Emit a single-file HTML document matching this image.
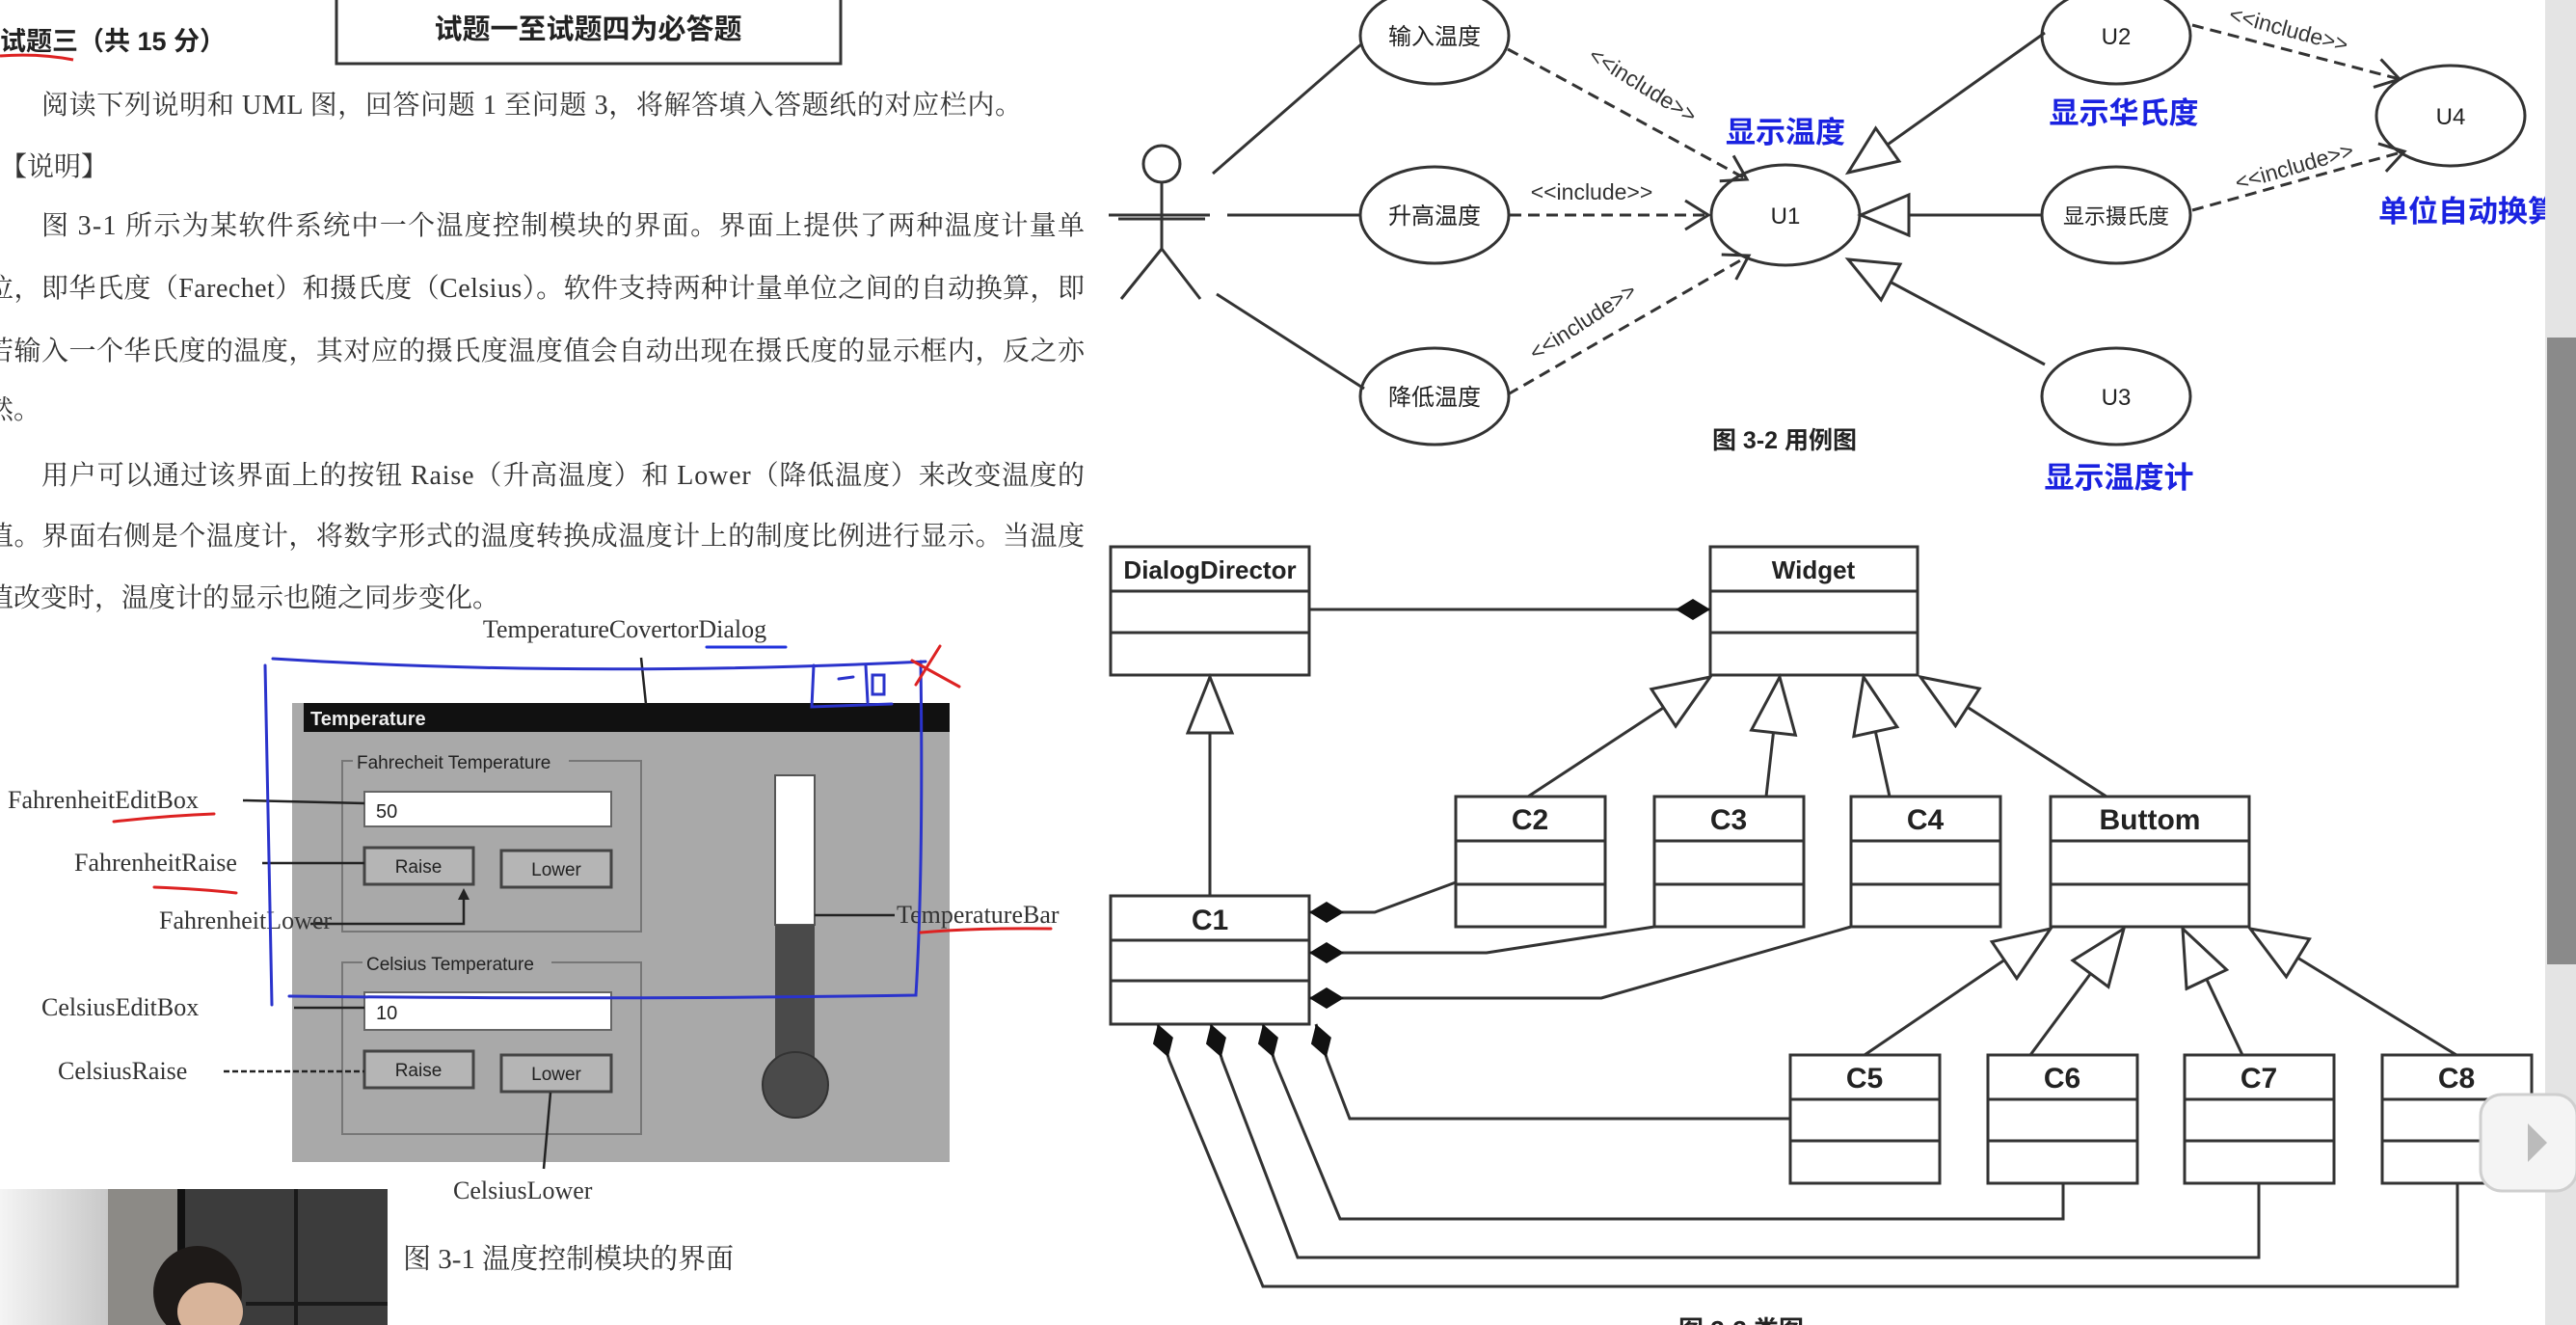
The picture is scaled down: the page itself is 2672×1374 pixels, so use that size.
<!DOCTYPE html>
<html><head><meta charset="utf-8"><style>
html,body{margin:0;padding:0;background:#fff;}
svg{display:block;}
.cn{font-family:"Liberation Serif","Noto Serif CJK SC",serif;fill:#333;}
.ss{font-family:"Liberation Sans","Noto Sans CJK SC",sans-serif;}
</style></head><body>
<svg width="2672" height="1374" viewBox="0 0 2672 1374" xmlns="http://www.w3.org/2000/svg">
<defs>
<marker id="tri" markerUnits="userSpaceOnUse" markerWidth="64" markerHeight="52" refX="60" refY="25" orient="auto"><path d="M2,2 L60,25 L2,48 z" fill="#fff" stroke="#333" stroke-width="3"/></marker>
<marker id="utri" markerUnits="userSpaceOnUse" markerWidth="56" markerHeight="48" refX="52" refY="23" orient="auto"><path d="M2,2 L52,23 L2,44 z" fill="#fff" stroke="#333" stroke-width="3"/></marker>
<marker id="open" markerUnits="userSpaceOnUse" markerWidth="30" markerHeight="34" refX="26" refY="17" orient="auto"><path d="M2,2 L26,17 L2,32" fill="none" stroke="#333" stroke-width="3"/></marker>
<marker id="dE" markerUnits="userSpaceOnUse" markerWidth="40" markerHeight="26" refX="37" refY="13" orient="auto"><path d="M1,13 L19,2 L37,13 L19,24 z" fill="#111"/></marker>
<marker id="dS" markerUnits="userSpaceOnUse" markerWidth="40" markerHeight="26" refX="1" refY="13" orient="auto"><path d="M1,13 L19,2 L37,13 L19,24 z" fill="#111"/></marker>
<linearGradient id="wl" x1="0" x2="1"><stop offset="0" stop-color="#f4f4f4"/><stop offset="1" stop-color="#c8c8c8"/></linearGradient>
</defs>

<!-- LEFT TEXT -->
<rect x="349" y="-4" width="523" height="70" fill="#fff" stroke="#333" stroke-width="3"/>
<text x="610" y="40" text-anchor="middle" class="ss" font-size="29" font-weight="bold" fill="#222">试题一至试题四为必答题</text>
<text x="0" y="52" class="ss" font-size="27" font-weight="bold" fill="#222">试题三（共 15 分）</text>
<path d="M0,58 Q40,55 76,62" stroke="#d22" stroke-width="3" fill="none"/>
<g class="cn" font-size="28">
<text x="43" y="118" textLength="1017" lengthAdjust="spacing">阅读下列说明和 UML 图，回答问题 1 至问题 3，将解答填入答题纸的对应栏内。</text>
<text x="0" y="182">【说明】</text>
<text x="43" y="243" textLength="1082" lengthAdjust="spacing">图 3-1 所示为某软件系统中一个温度控制模块的界面。界面上提供了两种温度计量单</text>
<text x="-14" y="308" textLength="1139" lengthAdjust="spacing">位，即华氏度（Farechet）和摄氏度（Celsius）。软件支持两种计量单位之间的自动换算，即</text>
<text x="-14" y="373" textLength="1139" lengthAdjust="spacing">若输入一个华氏度的温度，其对应的摄氏度温度值会自动出现在摄氏度的显示框内，反之亦</text>
<text x="-14" y="434">然。</text>
<text x="43" y="502" textLength="1082" lengthAdjust="spacing">用户可以通过该界面上的按钮 Raise（升高温度）和 Lower（降低温度）来改变温度的</text>
<text x="-14" y="565" textLength="1139" lengthAdjust="spacing">值。界面右侧是个温度计，将数字形式的温度转换成温度计上的制度比例进行显示。当温度</text>
<text x="-14" y="629">值改变时，温度计的显示也随之同步变化。</text>
</g>

<!-- FIGURE 3-1 -->
<rect x="303" y="729" width="682" height="476" fill="#a9a9a9"/>
<rect x="315" y="729" width="670" height="30" fill="#111"/>
<text x="322" y="752" class="ss" font-size="20" font-weight="bold" fill="#eee">Temperature</text>
<g fill="none" stroke="#777" stroke-width="2">
<rect x="355" y="789" width="310" height="177"/>
<rect x="355" y="998" width="310" height="178"/>
</g>
<rect x="366" y="779" width="224" height="22" fill="#a9a9a9"/>
<text x="370" y="797" class="ss" font-size="19" fill="#222">Fahrecheit Temperature</text>
<rect x="376" y="988" width="196" height="22" fill="#a9a9a9"/>
<text x="380" y="1006" class="ss" font-size="19" fill="#222">Celsius Temperature</text>
<rect x="378" y="821" width="256" height="36" fill="#fff" stroke="#666" stroke-width="2"/>
<text x="390" y="848" class="ss" font-size="20" fill="#222">50</text>
<rect x="378" y="1029" width="256" height="39" fill="#fff" stroke="#666" stroke-width="2"/>
<text x="390" y="1057" class="ss" font-size="20" fill="#222">10</text>
<g fill="#b5b5b5" stroke="#444" stroke-width="3">
<rect x="378" y="879" width="113" height="38"/><rect x="520" y="882" width="114" height="38"/>
<rect x="378" y="1090" width="113" height="38"/><rect x="520" y="1094" width="114" height="38"/>
</g>
<g class="ss" font-size="19" fill="#222" text-anchor="middle">
<text x="434" y="905">Raise</text><text x="577" y="908">Lower</text>
<text x="434" y="1116">Raise</text><text x="577" y="1120">Lower</text>
</g>
<rect x="804" y="804" width="41" height="155" fill="#fff" stroke="#555" stroke-width="2"/>
<rect x="804" y="959" width="41" height="150" fill="#4a4a4a"/>
<circle cx="825" cy="1125" r="34" fill="#4a4a4a" stroke="#333" stroke-width="2"/>
<g stroke="#222" stroke-width="2.5" fill="none">
<line x1="665" y1="682" x2="670" y2="730"/>
<line x1="252" y1="830" x2="378" y2="833"/>
<line x1="272" y1="895" x2="378" y2="895"/>
<polyline points="322,958 481,958 481,929"/>
<line x1="305" y1="1045" x2="378" y2="1045"/>
<line x1="232" y1="1111" x2="378" y2="1111" stroke-dasharray="6,3"/>
<line x1="571" y1="1133" x2="564" y2="1212"/>
<line x1="845" y1="949" x2="928" y2="949"/>
</g>
<path d="M481,921 l-6,12 h12 z" fill="#222"/>
<g class="cn" font-size="26" fill="#222">
<text x="648" y="661" text-anchor="middle">TemperatureCovertorDialog</text>
<text x="8" y="838">FahrenheitEditBox</text>
<text x="77" y="903">FahrenheitRaise</text>
<text x="165" y="963">FahrenheitLower</text>
<text x="43" y="1053">CelsiusEditBox</text>
<text x="60" y="1119">CelsiusRaise</text>
<text x="470" y="1243">CelsiusLower</text>
<text x="930" y="957">TemperatureBar</text>
</g>
<g fill="none" stroke-width="3" stroke-linecap="round">
<path d="M733,671 L815,671" stroke="#2233dd"/>
<path d="M283,683 Q600,703 960,686 M275,690 L282,1042 M300,1033 Q650,1037 950,1032 Q958,900 955,686" stroke="#2a33cc"/>
<path d="M844,690 L842,733 L925,730 M870,704 L885,702 M898,690 L900,728 M905,700 h12 v20 h-12 z" stroke="#2a33cc"/>
<path d="M946,685 L995,712 M975,670 L950,710" stroke="#dd2222"/>
<path d="M118,852 Q170,846 222,844 M160,920 Q210,922 245,926 M955,967 Q1010,962 1090,963" stroke="#dd2222"/>
</g>

<!-- WEBCAM -->
<rect x="0" y="1233" width="402" height="141" fill="#3c3c3c"/>
<rect x="0" y="1233" width="112" height="141" fill="url(#wl)"/>
<rect x="112" y="1233" width="72" height="141" fill="#8c8a86"/>
<rect x="184" y="1233" width="8" height="141" fill="#111"/>
<rect x="305" y="1233" width="4" height="141" fill="#1a1a1a"/>
<rect x="255" y="1350" width="147" height="4" fill="#1a1a1a"/>
<ellipse cx="205" cy="1340" rx="46" ry="48" fill="#1e1a18"/>
<ellipse cx="218" cy="1360" rx="34" ry="30" fill="#d8b49a"/>
<text x="418" y="1315" class="cn" font-size="29" fill="#333">图 3-1  温度控制模块的界面</text>

<!-- USE CASE DIAGRAM -->
<g fill="#fff" stroke="#333" stroke-width="3">
<ellipse cx="1488" cy="37" rx="77" ry="50"/>
<ellipse cx="1488" cy="223" rx="77" ry="50"/>
<ellipse cx="1488" cy="411" rx="77" ry="50"/>
<ellipse cx="1852" cy="223" rx="77" ry="52"/>
<ellipse cx="2195" cy="37" rx="77" ry="50"/>
<ellipse cx="2195" cy="223" rx="77" ry="50"/>
<ellipse cx="2195" cy="411" rx="77" ry="50"/>
<ellipse cx="2542" cy="120" rx="77" ry="52"/>
<circle cx="1205" cy="170" r="19"/>
</g>
<g stroke="#333" stroke-width="3" fill="none">
<line x1="1205" y1="189" x2="1205" y2="258"/>
<line x1="1160" y1="227" x2="1250" y2="227"/>
<line x1="1205" y1="258" x2="1163" y2="310"/>
<line x1="1205" y1="258" x2="1245" y2="310"/>
<line x1="1258" y1="180" x2="1413" y2="45"/>
<line x1="1273" y1="223" x2="1411" y2="223"/>
<line x1="1150" y1="223" x2="1255" y2="223"/>
<line x1="1262" y1="305" x2="1415" y2="403"/>
<g stroke-dasharray="12,7">
<line x1="1564" y1="51" x2="1812" y2="186" marker-end="url(#open)"/>
<line x1="1566" y1="223" x2="1772" y2="223" marker-end="url(#open)"/>
<line x1="1564" y1="409" x2="1814" y2="265" marker-end="url(#open)"/>
<line x1="2274" y1="26" x2="2489" y2="82" marker-end="url(#open)"/>
<line x1="2274" y1="218" x2="2494" y2="157" marker-end="url(#open)"/>
</g>
<line x1="2121" y1="34" x2="1917" y2="179" marker-end="url(#utri)"/>
<line x1="2118" y1="223" x2="1930" y2="223" marker-end="url(#utri)"/>
<line x1="2121" y1="378" x2="1917" y2="269" marker-end="url(#utri)"/>
</g>
<g class="ss" font-size="24" fill="#222" text-anchor="middle">
<text x="1488" y="46">输入温度</text>
<text x="1488" y="232">升高温度</text>
<text x="1488" y="420">降低温度</text>
<text x="1852" y="232">U1</text>
<text x="2195" y="46">U2</text>
<text x="2195" y="232" font-size="22">显示摄氏度</text>
<text x="2195" y="420">U3</text>
<text x="2542" y="129">U4</text>
<text x="1851" y="465" font-size="25" font-weight="bold">图 3-2 用例图</text>
</g>
<g class="ss" font-size="23" fill="#333" text-anchor="middle">
<text transform="translate(1700,95) rotate(32)">&lt;&lt;include&gt;&gt;</text>
<text x="1651" y="207">&lt;&lt;include&gt;&gt;</text>
<text transform="translate(1646,340) rotate(-33)">&lt;&lt;include&gt;&gt;</text>
<text transform="translate(2372,38) rotate(15)">&lt;&lt;include&gt;&gt;</text>
<text transform="translate(2382,180) rotate(-16)">&lt;&lt;include&gt;&gt;</text>
</g>
<g class="ss" font-size="31" font-weight="bold" fill="#1a22e0" text-anchor="middle">
<text x="1852" y="148">显示温度</text>
<text x="2203" y="128">显示华氏度</text>
<text x="2560" y="230">单位自动换算</text>
<text x="2198" y="506">显示温度计</text>
</g>

<!-- CLASS DIAGRAM -->
<g fill="#fff" stroke="#333" stroke-width="3">
<rect x="1152" y="567" width="206" height="133"/><line x1="1152" y1="613" x2="1358" y2="613"/><line x1="1152" y1="656" x2="1358" y2="656"/>
<rect x="1774" y="567" width="215" height="133"/><line x1="1774" y1="613" x2="1989" y2="613"/><line x1="1774" y1="656" x2="1989" y2="656"/>
<rect x="1510" y="826" width="155" height="135"/><line x1="1510" y1="872" x2="1665" y2="872"/><line x1="1510" y1="917" x2="1665" y2="917"/>
<rect x="1716" y="826" width="155" height="135"/><line x1="1716" y1="872" x2="1871" y2="872"/><line x1="1716" y1="917" x2="1871" y2="917"/>
<rect x="1920" y="826" width="155" height="135"/><line x1="1920" y1="872" x2="2075" y2="872"/><line x1="1920" y1="917" x2="2075" y2="917"/>
<rect x="2127" y="826" width="206" height="135"/><line x1="2127" y1="872" x2="2333" y2="872"/><line x1="2127" y1="917" x2="2333" y2="917"/>
<rect x="1152" y="929" width="206" height="133"/><line x1="1152" y1="975" x2="1358" y2="975"/><line x1="1152" y1="1017" x2="1358" y2="1017"/>
<rect x="1857" y="1094" width="155" height="133"/><line x1="1857" y1="1140" x2="2012" y2="1140"/><line x1="1857" y1="1183" x2="2012" y2="1183"/>
<rect x="2062" y="1094" width="155" height="133"/><line x1="2062" y1="1140" x2="2217" y2="1140"/><line x1="2062" y1="1183" x2="2217" y2="1183"/>
<rect x="2266" y="1094" width="155" height="133"/><line x1="2266" y1="1140" x2="2421" y2="1140"/><line x1="2266" y1="1183" x2="2421" y2="1183"/>
<rect x="2471" y="1094" width="155" height="133"/><line x1="2471" y1="1140" x2="2626" y2="1140"/><line x1="2471" y1="1183" x2="2626" y2="1183"/>
</g>
<g stroke="#333" stroke-width="3" fill="none">
<line x1="1358" y1="632" x2="1774" y2="632" marker-end="url(#dE)"/>
<line x1="1255" y1="929" x2="1255" y2="702" marker-end="url(#tri)"/>
<line x1="1585" y1="826" x2="1774" y2="702" marker-end="url(#tri)"/>
<line x1="1832" y1="826" x2="1846" y2="702" marker-end="url(#tri)"/>
<line x1="1960" y1="826" x2="1933" y2="702" marker-end="url(#tri)"/>
<line x1="2185" y1="826" x2="1992" y2="702" marker-end="url(#tri)"/>
<line x1="1934" y1="1094" x2="2127" y2="963" marker-end="url(#tri)"/>
<line x1="2106" y1="1094" x2="2203" y2="963" marker-end="url(#tri)"/>
<line x1="2326" y1="1094" x2="2264" y2="963" marker-end="url(#tri)"/>
<line x1="2548" y1="1094" x2="2334" y2="963" marker-end="url(#tri)"/>
<polyline points="1358,946 1426,946 1510,915" marker-start="url(#dS)"/>
<polyline points="1358,988 1542,988 1716,961" marker-start="url(#dS)"/>
<polyline points="1358,1035 1661,1035 1920,961" marker-start="url(#dS)"/>
<polyline points="1365,1062 1377,1100 1400,1160 1857,1160" marker-start="url(#dS)"/>
<polyline points="1310,1062 1322,1100 1390,1264 2140,1264 2140,1227" marker-start="url(#dS)"/>
<polyline points="1256,1062 1268,1100 1346,1304 2343,1304 2343,1227" marker-start="url(#dS)"/>
<polyline points="1201,1062 1213,1100 1310,1334 2549,1334 2549,1227" marker-start="url(#dS)"/>
</g>
<g class="ss" font-size="26" font-weight="bold" fill="#222" text-anchor="middle">
<text x="1255" y="600">DialogDirector</text>
<text x="1881" y="600">Widget</text>
<text x="1587" y="860" font-size="30">C2</text>
<text x="1793" y="860" font-size="30">C3</text>
<text x="1997" y="860" font-size="30">C4</text>
<text x="2230" y="860" font-size="30">Buttom</text>
<text x="1255" y="964" font-size="30">C1</text>
<text x="1934" y="1128" font-size="30">C5</text>
<text x="2139" y="1128" font-size="30">C6</text>
<text x="2343" y="1128" font-size="30">C7</text>
<text x="2548" y="1128" font-size="30">C8</text>
<text x="1806" y="1388" font-size="26">图 3-3 类图</text>
</g>

<!-- scrollbar & logo -->
<rect x="2640" y="0" width="32" height="1374" fill="#e4e4e4"/>
<rect x="2642" y="350" width="30" height="650" fill="#8a8a8a"/>
<rect x="2573" y="1135" width="100" height="100" rx="22" fill="#f4f4f4" stroke="#cfcfcf" stroke-width="3"/>
<path d="M2622,1165 l20,20 l-20,20 z" fill="#bbb"/>
</svg>
</body></html>
